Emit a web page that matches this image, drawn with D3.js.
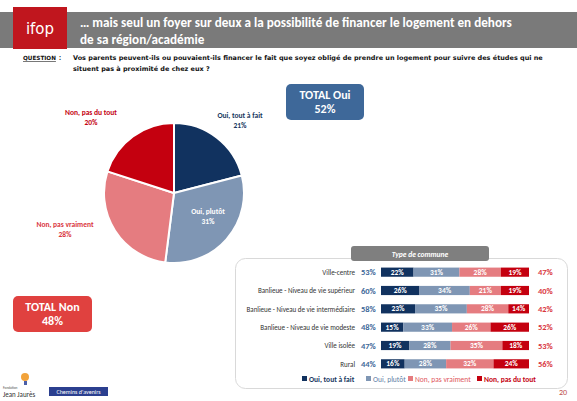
<!DOCTYPE html>
<html><head><meta charset="utf-8">
<script src="https://cdn.jsdelivr.net/npm/d3@7"></script>
<style>
html,body{margin:0;padding:0;background:#fff;}
svg{display:block;font-family:Calibri,"Liberation Sans","DejaVu Sans",sans-serif;}
</style></head>
<body>
<svg id="c" width="577" height="401"></svg>
<script>
const title1 = "… mais seul un foyer sur deux a la possibilité de financer le logement en dehors";
const title2 = "de sa région/académie";
const question1 = "Vos parents peuvent-ils ou pouvaient-ils financer le fait que soyez obligé de prendre un logement pour suivre des études qui ne";
const question2 = "situent pas à proximité de chez eux ?";

const pieLabels = ["Oui, tout à fait", "Oui, plutôt", "Non, pas vraiment", "Non, pas du tout"];
const pieValues = [21, 31, 28, 20];
const colors = ["#11325f", "#7f96b4", "#e57c80", "#c4000f"];

const communes = ["Ville-centre", "Banlieue - Niveau de vie supérieur", "Banlieue - Niveau de vie intermédiaire", "Banlieue - Niveau de vie modeste", "Ville isolée", "Rural"];
const totalOui = [53, 60, 58, 48, 47, 44];
const ouiToutAFait = [22, 26, 23, 15, 19, 16];
const ouiPlutot = [31, 34, 35, 33, 28, 28];
const nonPasVraiment = [28, 21, 28, 26, 35, 32];
const nonPasDuTout = [19, 19, 14, 26, 18, 24];
const totalNon = [47, 40, 42, 52, 53, 56];

const totalOuiAll = 52, totalNonAll = 48;

const svg = d3.select("#c");

function fitText(sel, width){
  const n = sel.node();
  const fs = parseFloat(sel.attr("font-size"));
  const w = n.getComputedTextLength();
  if (w > 0) sel.attr("font-size", (fs * width / w).toFixed(2));
  return sel;
}

// Header
svg.append("rect").attr("x",0).attr("y",12).attr("width",577).attr("height",36).attr("fill","#7a7a7a");
svg.append("rect").attr("x",13).attr("y",7).attr("width",54).attr("height",42).attr("fill","#c0161e");
svg.append("text").attr("x",40).attr("y",34).attr("text-anchor","middle").attr("fill","#fff")
  .attr("font-size",15).attr("font-family","'DejaVu Sans',sans-serif").text("ifop");
const t1 = svg.append("text").attr("x",80).attr("y",27).attr("fill","#fff").attr("font-size",13.5).attr("font-weight","bold").text(title1);
fitText(t1, 432);
svg.append("text").attr("x",80).attr("y",44).attr("fill","#fff").attr("font-size",t1.attr("font-size")).attr("font-weight","bold").text(title2);

// Question
const qlab = svg.append("text").attr("x",23).attr("y",60).attr("fill","#111").attr("font-size",7.5).attr("font-weight","bold")
  .attr("font-family","'DejaVu Sans',sans-serif").attr("text-decoration","underline").text("QUESTION");
fitText(qlab, 33);
svg.append("text").attr("x",59).attr("y",60).attr("fill","#111").attr("font-size",7.5).attr("font-weight","bold").text(":");
const q1 = svg.append("text").attr("x",73).attr("y",60).attr("fill","#111").attr("font-size",7).attr("font-weight","bold")
  .attr("font-family","'DejaVu Sans',sans-serif").text(question1);
fitText(q1, 470);
svg.append("text").attr("x",73).attr("y",71).attr("fill","#111").attr("font-size",q1.attr("font-size")).attr("font-weight","bold")
  .attr("font-family","'DejaVu Sans',sans-serif").text(question2);

// Pie
const cx = 174, cy = 193, r = 70;
const pie = d3.pie().sort(null).value(d => d)(pieValues);
const arc = d3.arc().innerRadius(0).outerRadius(r);
const pg = svg.append("g").attr("transform", `translate(${cx},${cy})`);
pg.selectAll("path").data(pie).join("path").attr("d", arc)
  .attr("fill", (d,i) => colors[i]).attr("stroke","#fff").attr("stroke-width",2);

const labelPos = [[240,118],[208,214],[65,227],[91,115]];
const labelCol = ["#17375e","#ffffff","#d9363e","#c4000f"];
pie.forEach((d,i) => {
  const t = svg.append("text").attr("text-anchor","middle").attr("font-size",7.5).attr("font-weight","bold").attr("fill",labelCol[i]);
  t.append("tspan").attr("x",labelPos[i][0]).attr("y",labelPos[i][1]).text(pieLabels[i]);
  t.append("tspan").attr("x",labelPos[i][0]).attr("y",labelPos[i][1]+10).text(pieValues[i] + "%");
});

// Total boxes
function totalBox(x,y,w,h,fill,l1,l2){
  svg.append("rect").attr("x",x).attr("y",y).attr("width",w).attr("height",h).attr("rx",5).attr("fill",fill);
  svg.append("text").attr("x",x+w/2).attr("y",y+15).attr("text-anchor","middle").attr("fill","#fff").attr("font-size",12).attr("font-weight","bold").text(l1);
  svg.append("text").attr("x",x+w/2).attr("y",y+29).attr("text-anchor","middle").attr("fill","#fff").attr("font-size",12).attr("font-weight","bold").text(l2);
}
totalBox(286,84,78,36,"#3e6899","TOTAL Oui", totalOuiAll + "%");
totalBox(13,296,79,36,"#e0413f","TOTAL Non", totalNonAll + "%");

// Bar panel
svg.append("rect").attr("x",235.5).attr("y",258.5).attr("width",332).attr("height",130).attr("rx",10)
  .attr("fill","none").attr("stroke","#d9d9d9").attr("stroke-width",1);
svg.append("rect").attr("x",351).attr("y",246).attr("width",138).attr("height",15).attr("rx",3).attr("fill","#7f7f7f");
svg.append("text").attr("x",420).attr("y",256.5).attr("text-anchor","middle").attr("fill","#fff").attr("font-size",7.5)
  .attr("font-weight","bold").attr("font-style","italic").text("Type de commune");

const x = d3.scaleLinear().domain([0,100]).range([381,529]);
const y = d3.scaleBand().domain(communes).range([263,373]).paddingInner(0.5).paddingOuter(0.25);
const series = [ouiToutAFait, ouiPlutot, nonPasVraiment, nonPasDuTout];
const rows = communes.map((c,i) => {
  const o = {commune:c};
  series.forEach((s,k) => o["k"+k] = s[i]);
  return o;
});
const stack = d3.stack().keys(["k0","k1","k2","k3"])(rows);
const bg = svg.append("g");
stack.forEach((layer,k) => {
  bg.selectAll(null).data(layer).join("rect")
    .attr("x", d => x(d[0])).attr("y", d => y(d.data.commune))
    .attr("width", d => x(d[1]) - x(d[0])).attr("height", y.bandwidth())
    .attr("fill", colors[k]);
  bg.selectAll(null).data(layer).join("text")
    .attr("x", d => (x(d[0]) + x(d[1]))/2).attr("y", d => y(d.data.commune) + y.bandwidth()/2 + 2.6)
    .attr("text-anchor","middle").attr("fill","#fff").attr("font-size",7.5).attr("font-weight","bold")
    .text(d => (d[1]-d[0]) + "%");
});
communes.forEach((c,i) => {
  const yc = y(c) + y.bandwidth()/2 + 2.8;
  svg.append("text").attr("x",355).attr("y",yc).attr("text-anchor","end").attr("fill","#333").attr("font-size",7).text(c);
  svg.append("text").attr("x",361).attr("y",yc+0.5).attr("fill","#3e6899").attr("font-size",8.5).attr("font-weight","bold").text(totalOui[i] + "%");
  svg.append("text").attr("x",538).attr("y",yc+0.5).attr("fill","#d9363e").attr("font-size",8.5).attr("font-weight","bold").text(totalNon[i] + "%");
});

// Legend
const legX = [302, 366, 408, 477];
const legTextCol = ["#17375e","#5f7fa8","#e0565c","#c4000f"];
const legWeight = ["bold","normal","normal","bold"];
pieLabels.forEach((l,i) => {
  svg.append("rect").attr("x",legX[i]).attr("y",376).attr("width",5).attr("height",5).attr("fill",colors[i]);
  svg.append("text").attr("x",legX[i]+7).attr("y",381.5).attr("fill",legTextCol[i]).attr("font-size",7.5)
    .attr("font-weight",legWeight[i]).text(l);
});

// Page number
svg.append("text").attr("x",559).attr("y",395).attr("fill","#c0504d").attr("font-size",8).text("20");

// Footer logos
svg.append("circle").attr("cx",25).attr("cy",377).attr("r",4).attr("fill","#f2a33a");
svg.append("rect").attr("x",24).attr("y",381).attr("width",3).attr("height",4).attr("fill","#4b5fa8");
svg.append("text").attr("x",3).attr("y",389).attr("fill","#555").attr("font-size",3.5).text("Fondation");
svg.append("text").attr("x",3).attr("y",397).attr("fill","#333").attr("font-size",7).text("Jean Jaurès");
svg.append("rect").attr("x",49).attr("y",387).attr("width",59).attr("height",9).attr("fill","#2b3f8f");
svg.append("text").attr("x",78.5).attr("y",394).attr("text-anchor","middle").attr("fill","#fff").attr("font-size",6).text("Chemins d'avenirs");
</script>
</body></html>
